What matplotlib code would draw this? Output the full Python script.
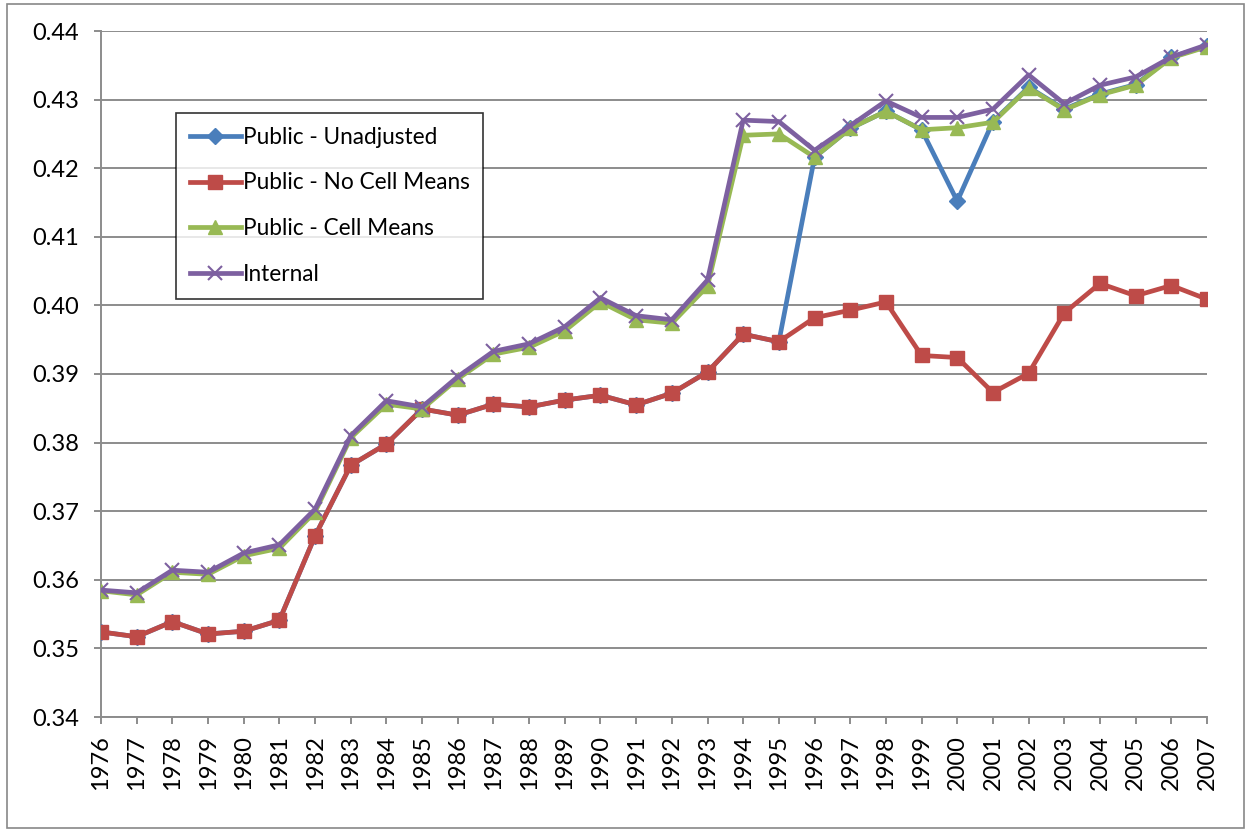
import matplotlib
matplotlib.use("Agg")
import matplotlib.pyplot as plt
from matplotlib.patches import Rectangle

years = list(range(1976, 2008))

public_unadjusted = [0.3524, 0.3517, 0.3539, 0.3521, 0.3525, 0.3541, 0.3664, 0.3767,
                     0.3798, 0.3849, 0.3840, 0.3856, 0.3852, 0.3862, 0.3869, 0.3855,
                     0.3872, 0.3903, 0.3958, 0.3947, 0.4216, 0.4258, 0.4283, 0.4256,
                     0.4152, 0.4268, 0.4318, 0.4286, 0.4308, 0.4322, 0.4362, 0.4378]
public_no_cell = [0.3524, 0.3517, 0.3539, 0.3521, 0.3525, 0.3541, 0.3664, 0.3767,
                  0.3798, 0.3849, 0.3840, 0.3856, 0.3852, 0.3862, 0.3869, 0.3855,
                  0.3872, 0.3903, 0.3958, 0.3947, 0.3982, 0.3993, 0.4005, 0.3927,
                  0.3924, 0.3873, 0.3901, 0.3989, 0.4032, 0.4014, 0.4029, 0.4009]
public_cell = [0.3584, 0.3578, 0.3611, 0.3608, 0.3635, 0.3646, 0.3699, 0.3807,
               0.3856, 0.3849, 0.3893, 0.3929, 0.3939, 0.3963, 0.4005, 0.3979,
               0.3974, 0.4028, 0.4248, 0.4250, 0.4216, 0.4258, 0.4283, 0.4256,
               0.4259, 0.4267, 0.4317, 0.4285, 0.4307, 0.4321, 0.4361, 0.4377]
internal = [0.3585, 0.3581, 0.3614, 0.3611, 0.3639, 0.3651, 0.3703, 0.3810,
            0.3861, 0.3852, 0.3896, 0.3933, 0.3944, 0.3969, 0.4011, 0.3985,
            0.3979, 0.4037, 0.4270, 0.4268, 0.4226, 0.4262, 0.4298, 0.4274,
            0.4274, 0.4286, 0.4336, 0.4294, 0.4321, 0.4333, 0.4362, 0.4380]

y_ticks = [0.34, 0.35, 0.36, 0.37, 0.38, 0.39, 0.40, 0.41, 0.42, 0.43, 0.44]

plt.rcParams['font.family'] = ['Lato', 'DejaVu Sans']

fig = plt.figure(figsize=(12.49, 8.31), dpi=100)
ax = fig.add_axes([101/1249, 1 - 717/831, (1207-101)/1249, (717-31)/831])

fig.patches.append(Rectangle((7/1249, 3/831), 1237/1249, 824/831, transform=fig.transFigure,
                             fill=False, edgecolor='#888888', linewidth=1.2))

x = list(range(len(years)))
lw = 3.4
ax.plot(x, public_unadjusted, color='#4A7EBB', lw=lw, marker='D', ms=8,
        label='Public - Unadjusted', zorder=3)
ax.plot(x, public_no_cell, color='#BE4B48', lw=lw, marker='s', ms=10.5,
        label='Public - No Cell Means', zorder=4)
ax.plot(x, public_cell, color='#98B954', lw=lw, marker='^', ms=10,
        label='Public - Cell Means', zorder=5)
ax.plot(x, internal, color='#7D60A0', lw=lw, marker='x', ms=10, mew=1.5,
        label='Internal', zorder=6)

ax.set_xlim(0, len(years) - 1)
ax.set_ylim(0.34, 0.44)
ax.set_yticks(y_ticks)
ax.set_yticklabels([f'{v:.2f}' for v in y_ticks], fontsize=17)
ax.set_xticks(x)
ax.set_xticklabels([str(yv) for yv in years], rotation=90, fontsize=17)

ax.grid(axis='y', color='#8C8C8C', linewidth=1.4)
ax.set_axisbelow(True)
for s in ['top', 'right']:
    ax.spines[s].set_visible(False)
for s in ['left', 'bottom']:
    ax.spines[s].set_color('#8C8C8C')
    ax.spines[s].set_linewidth(1.4)
ax.tick_params(axis='both', color='#8C8C8C', width=1.4, length=5, direction='out')
ax.tick_params(axis='y', pad=11)
ax.tick_params(axis='x', pad=8)

leg = ax.legend(loc='upper left', fontsize=16.3, frameon=True, fancybox=False,
                edgecolor='black', handlelength=2.25, labelspacing=1.1, borderpad=0.6,
                handletextpad=0.1, borderaxespad=0)
leg.set_bbox_to_anchor(((176-101)/1106, 1 - (113-31)/686), transform=ax.transAxes)
leg.get_frame().set_linewidth(1.2)

fig.savefig('out.png', dpi=100, facecolor='white')
